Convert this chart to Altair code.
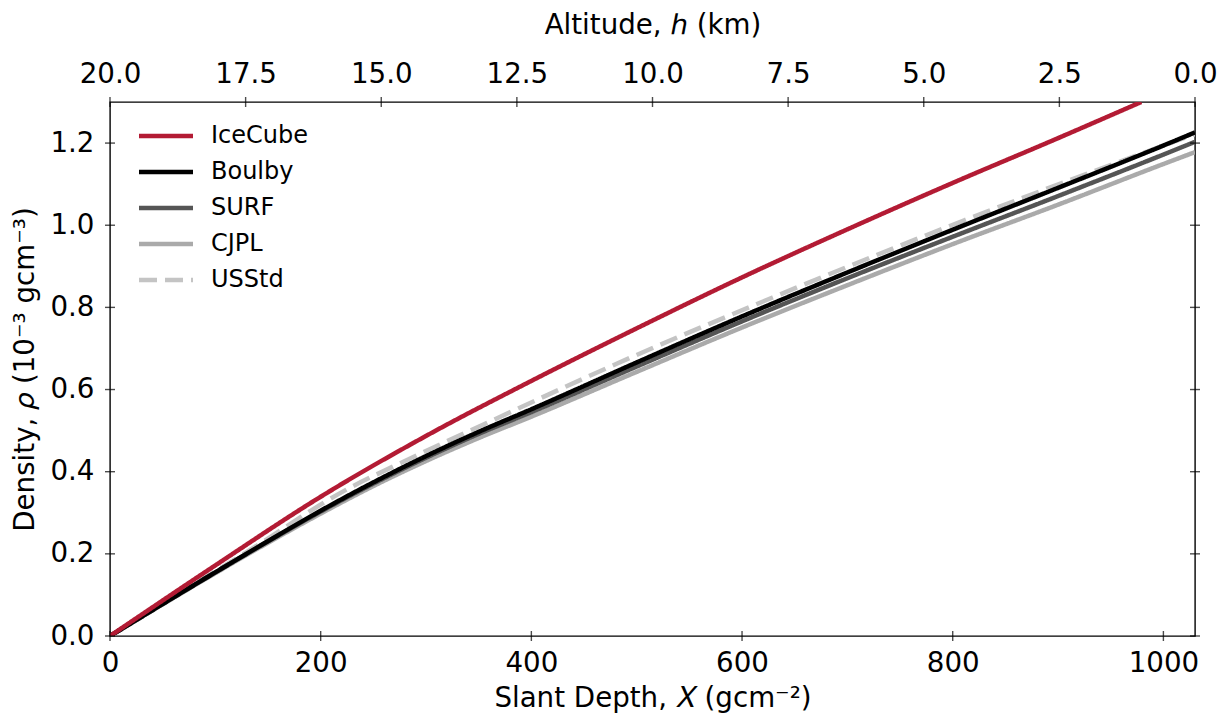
import altair as alt
import pandas as pd

# ---- data ----
series_names = ["IceCube", "Boulby", "SURF", "CJPL", "USStd"]
series_colors = ["#B31B34", "#000000", "#555555", "#AAAAAA", "#C4C4C4"]

ice_X = [0, 100, 200, 300, 400, 500, 600, 700, 800, 900, 979]
ice_rho = [0, 0.172, 0.339, 0.487, 0.621, 0.749, 0.873, 0.990, 1.103, 1.212, 1.300]

boulby_X = [0, 50, 100, 150, 200, 250, 300, 350, 400, 500, 600, 700, 800, 900, 1000, 1030]
boulby_rho = [0, 0.078, 0.155, 0.231, 0.305, 0.374, 0.438, 0.497, 0.552, 0.666, 0.778, 0.885, 0.989, 1.091, 1.194, 1.226]

surf_X = [0, 50, 100, 150, 200, 250, 300, 350, 400, 500, 600, 700, 800, 900, 1000, 1030]
surf_rho = [0, 0.078, 0.155, 0.230, 0.303, 0.371, 0.434, 0.492, 0.545, 0.656, 0.766, 0.871, 0.972, 1.071, 1.172, 1.203]

cjpl_X = [0, 50, 100, 150, 200, 250, 300, 350, 400, 500, 600, 700, 800, 900, 1000, 1030]
cjpl_rho = [0, 0.077, 0.153, 0.227, 0.298, 0.365, 0.426, 0.482, 0.534, 0.643, 0.751, 0.854, 0.954, 1.050, 1.149, 1.178]

usstd_X = [0, 26, 56, 124, 230, 270, 364, 482, 629, 811, 1030]
usstd_rho = [0, 0.040, 0.089, 0.195, 0.364, 0.414, 0.526, 0.664, 0.824, 1.012, 1.222]

x_ticks = [0, 200, 400, 600, 800, 1000]
y_ticks = [0.0, 0.2, 0.4, 0.6, 0.8, 1.0, 1.2]
alt_ticks = [20.0, 17.5, 15.0, 12.5, 10.0, 7.5, 5.0, 2.5, 0.0]

# drawing order (back to front)
draw = [("USStd", usstd_X, usstd_rho), ("CJPL", cjpl_X, cjpl_rho), ("SURF", surf_X, surf_rho),
        ("Boulby", boulby_X, boulby_rho), ("IceCube", ice_X, ice_rho)]
rows = []
for name, xs, ys in draw:
    for i, (a, b) in enumerate(zip(xs, ys)):
        rows.append({"series": name, "X": a, "rho": b, "idx": i})
df = pd.DataFrame(rows)

alt_df = pd.DataFrame({"h": alt_ticks})
y_df = pd.DataFrame({"r": y_ticks})
x_df = pd.DataFrame({"x": x_ticks})

FONT = "DejaVu Sans"
FS = 27.7
W, H = 1085, 534

xscale = alt.Scale(domain=[0, 1030], nice=False, zero=False)
yscale = alt.Scale(domain=[0, 1.3], nice=False, zero=False)
hscale = alt.Scale(domain=[20, 0], nice=False, zero=False)

base_axis = dict(domain=False, ticks=False, labelFont=FONT, labelFontSize=FS, labelColor="black",
                 titleFont=FONT, titleFontSize=FS, titleFontWeight="normal", titleColor="black",
                 grid=False, labelFlush=False)

legend = alt.Legend(title=None, orient="none", legendX=40, legendY=18, symbolType="M-2,0H2",
                    symbolSize=729, symbolStrokeWidth=4.5, labelFont=FONT, labelFontSize=24,
                    labelColor="black", labelOffset=29, rowPadding=8, padding=0)

dashes = [[1, 0], [1, 0], [1, 0], [1, 0], [18, 8]]

lines = alt.Chart(df).mark_line(strokeWidth=4.5, clip=True, interpolate="monotone").encode(
    x=alt.X("X:Q", scale=xscale,
            axis=alt.Axis(orient="bottom", values=x_ticks, format="d",
                          title="Slant Depth, 𝑋 (gcm⁻²)", labelPadding=13, titlePadding=8, **base_axis)),
    y=alt.Y("rho:Q", scale=yscale,
            axis=alt.Axis(orient="left", values=y_ticks, format=".1f",
                          title="Density, 𝜌 (10⁻³ gcm⁻³)", labelPadding=16, titlePadding=10, **base_axis)),
    color=alt.Color("series:N", scale=alt.Scale(domain=series_names, range=series_colors), legend=legend),
    strokeDash=alt.StrokeDash("series:N", scale=alt.Scale(domain=series_names, range=dashes), legend=legend),
    order=alt.Order("idx:Q"),
)

top = alt.Chart(alt_df).mark_point(opacity=0).encode(
    x=alt.X("h:Q", scale=hscale,
            axis=alt.Axis(orient="top", values=alt_ticks, format=".1f", title="Altitude, ℎ (km)",
                          labelPadding=14, titlePadding=21, **base_axis))
)

TICK = dict(color="black", size=10, thickness=1.4)

bottom_ticks = alt.Chart(x_df).mark_tick(orient="vertical", **TICK).encode(
    x=alt.X("x:Q", scale=xscale, axis=None), y=alt.value(H))
top_ticks = alt.Chart(alt_df).mark_tick(orient="vertical", **TICK).encode(
    x=alt.X("h:Q", scale=hscale, axis=None), y=alt.value(0))
left_ticks = alt.Chart(y_df).mark_tick(orient="horizontal", **TICK).encode(
    y=alt.Y("r:Q", scale=yscale, axis=None), x=alt.value(0))
right_ticks = alt.Chart(y_df).mark_tick(orient="horizontal", **TICK).encode(
    y=alt.Y("r:Q", scale=yscale, axis=None), x=alt.value(W))

chart = alt.layer(
    lines, top, bottom_ticks, top_ticks, left_ticks, right_ticks,
).resolve_scale(x="independent", y="independent", color="shared", strokeDash="shared").properties(
    width=W, height=H,
    background="white",
    autosize=alt.AutoSizeParams(type="none"),
    padding={"left": 102, "top": 94, "right": 26, "bottom": 77},
).configure_view(stroke="black", strokeWidth=1.4)

chart.save("out.html", embed_options={"renderer": "svg", "actions": False})
